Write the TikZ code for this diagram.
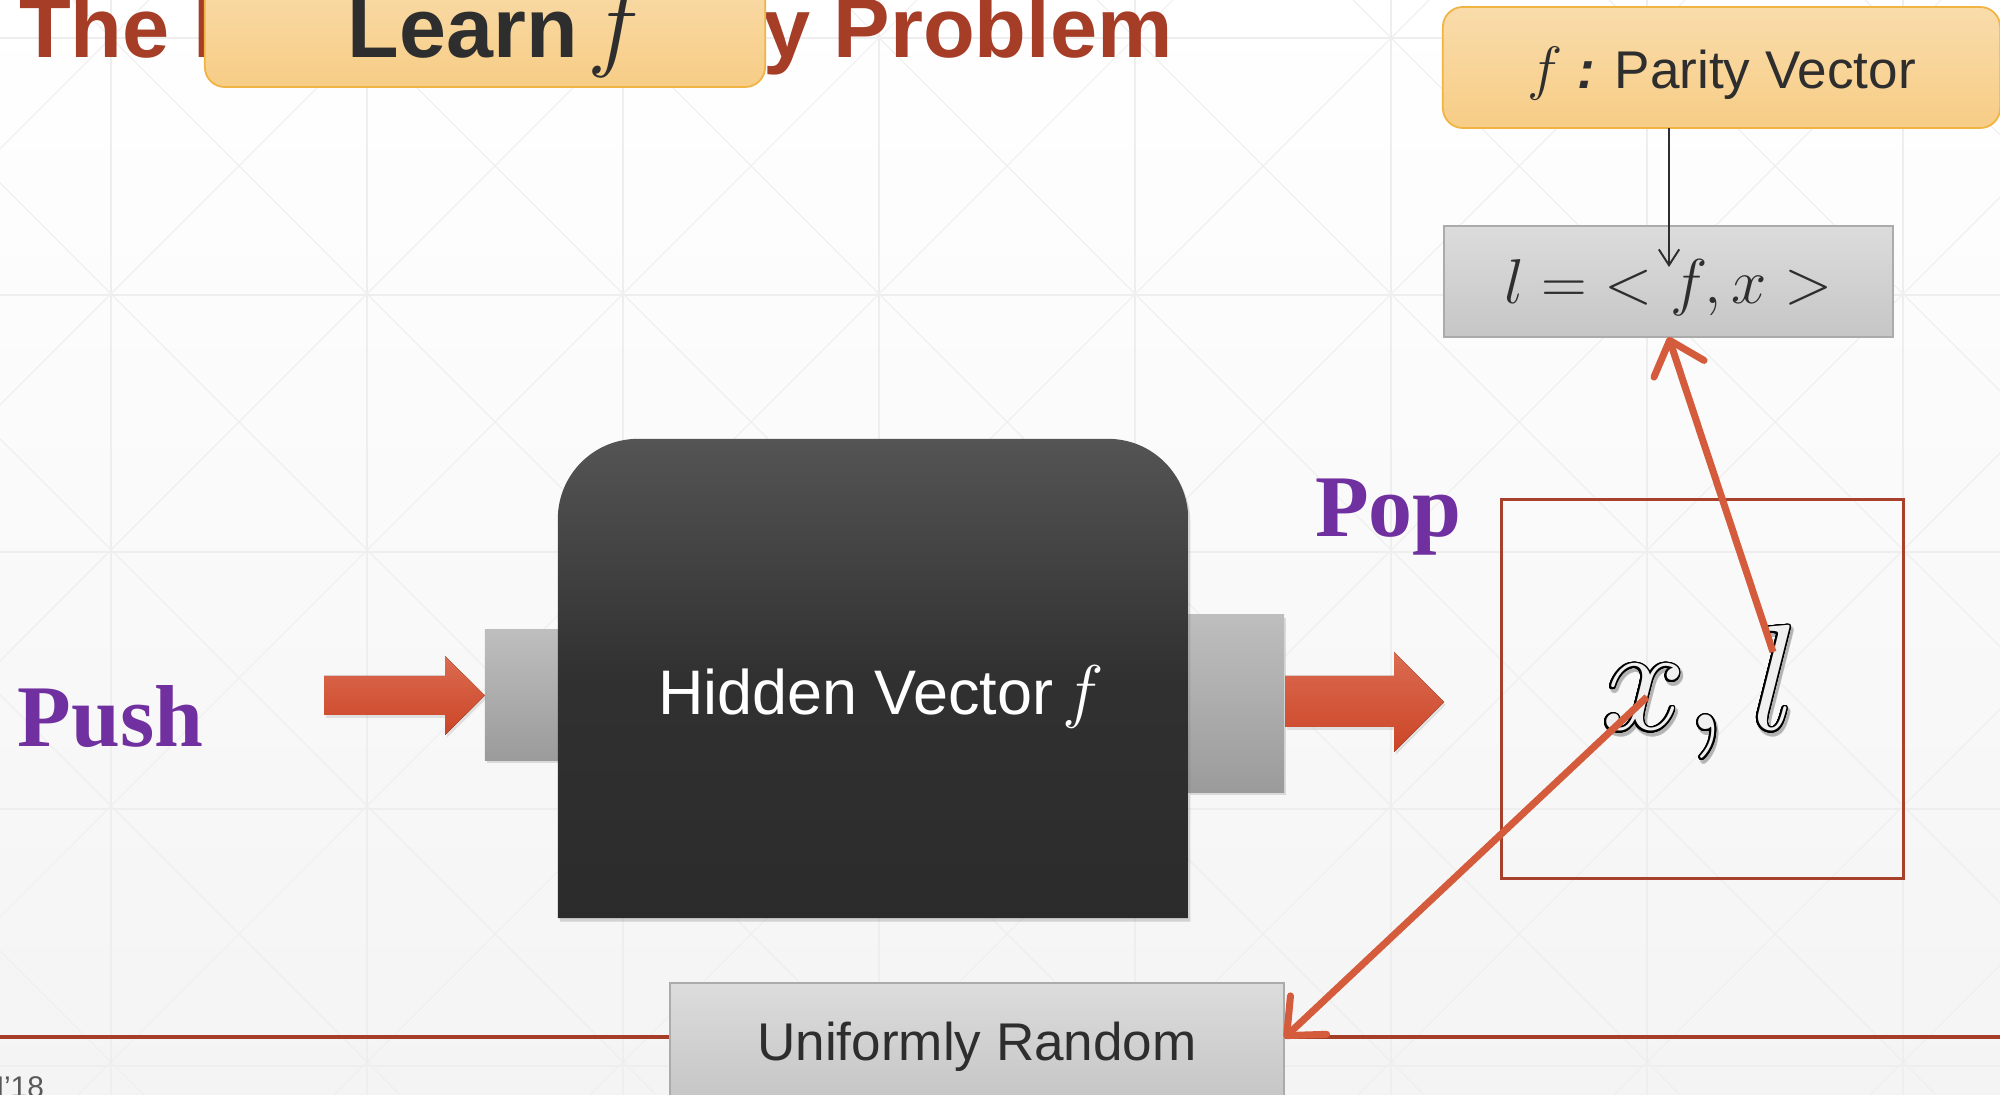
\RequirePackage{fix-cm}
\documentclass[tikz,border=0pt]{standalone}
\usepackage[no-math]{fontspec}
\setmainfont{Liberation Sans}
\newfontfamily\labelserif{Liberation Serif}
\usepackage{contour}
\contournumber{32}
\usetikzlibrary{arrows.meta,calc,shadows}

\definecolor{titlered}{HTML}{A53D27}
\definecolor{orangetop}{HTML}{F9DCAB}
\definecolor{orangebot}{HTML}{F7CD86}
\definecolor{orangeedge}{HTML}{F0B443}
\definecolor{graytop}{HTML}{DCDCDC}
\definecolor{graybot}{HTML}{C6C6C6}
\definecolor{grayedge}{HTML}{ABABAB}
\definecolor{stubtop}{HTML}{BEBEBE}
\definecolor{stubbot}{HTML}{9B9B9B}
\definecolor{arrowtop}{HTML}{DB6B50}
\definecolor{arrowbot}{HTML}{CC4527}
\definecolor{accent}{HTML}{D45B3B}
\definecolor{framered}{HTML}{A8412B}
\definecolor{rulered}{HTML}{A63D26}
\definecolor{labelpurple}{HTML}{7030A0}
\definecolor{ink}{HTML}{2E2E2E}
\definecolor{bgbottom}{HTML}{F4F4F4}
\definecolor{gridgray}{HTML}{EEEEEE}

% dark body of the box: light grey at the top, near black from the middle down
\pgfdeclareverticalshading{boxbody}{100bp}{color(0bp)=(black!83); color(25bp)=(black!83);
  color(50bp)=(black!81); color(75bp)=(black!67); color(100bp)=(black!67)}

\newcommand{\bigf}[1]{{\fontsize{#1}{#1}\selectfont$f$}}

\begin{document}
\begin{tikzpicture}[x=0.01cm, y=-0.01cm,
  every node/.style={inner sep=0pt, outer sep=0pt},
  gridline/.style={draw=gridgray, line width=0.3pt},
  orangebox/.style={draw=orangeedge, line width=0.5pt, rounded corners=0.2cm,
    top color=orangetop, bottom color=orangebot, text=ink},
  graybox/.style={draw=grayedge, line width=0.45pt,
    top color=graytop, bottom color=graybot, text=ink},
  stub/.style={top color=stubtop, bottom color=stubbot,
    drop shadow={opacity=0.25, shadow xshift=0.5pt, shadow yshift=-0.8pt}},
  blockarrow/.style={top color=arrowtop, bottom color=arrowbot,
    drop shadow={opacity=0.2, shadow xshift=0.5pt, shadow yshift=-0.8pt}},
  redarrow/.style={draw=accent, line width=2pt,
    -{Straight Barb[length=8.5pt, width=15pt, line cap=round, line join=round]}},
  thinarrow/.style={draw=ink, line width=0.55pt,
    -{Straight Barb[length=4.5pt, width=5.8pt]}},
  bigword/.style={text=labelpurple, font=\labelserif\bfseries\fontsize{25pt}{30pt}\selectfont},
]
\useasboundingbox (0,0) rectangle (2000,1095);

% page background with its faint triangular grid
\shade[top color=white, bottom color=bgbottom] (0,0) rectangle (2000,1095);
\begin{scope}
  \clip (0,0) rectangle (2000,1095);
  \foreach \gx in {111,367,...,1903} \draw[gridline] (\gx,0) -- (\gx,1095);
  \foreach \gy in {38,295,552,809,1066} \draw[gridline] (0,\gy) -- (2000,\gy);
  \foreach \k in {-5,...,8} \draw[gridline] ({73+256*\k},0) -- ({73+256*\k+1095},1095);
  \foreach \k in {0,...,12} \draw[gridline] ({149+256*\k},0) -- ({149+256*\k-1095},1095);
\end{scope}

% slide title, partly covered by the callout
\node[anchor=base west, text=titlered, font=\bfseries\fontsize{24.1pt}{29pt}\selectfont]
  (title) at (19,58) {The Learning Parity Problem};
\node[orangebox, minimum width=5.6cm, minimum height=1.19cm,
  text height=0.59cm, text depth=0pt,
  font=\bfseries\fontsize{24pt}{29pt}\selectfont] (learn) at (485,27.5)
  {\kern0.26cm Learn\kern0.12em\bigf{29pt}};

% parity vector and the label computation
\node[orangebox, minimum width=5.57cm, minimum height=1.21cm, text depth=0pt,
  font=\fontsize{15.1pt}{18pt}\selectfont] (parity) at (1721.5,67.5)
  {\bigf{17pt} \textbf{\textit{:}} Parity Vector};
\node[graybox, minimum width=4.49cm, minimum height=1.11cm, text depth=0pt,
  font=\fontsize{18pt}{21pt}\selectfont] (lfx) at (1668.5,281.5)
  {$l = \;< f,x >$};
\coordinate (ftip) at (1669,267);
\draw[thinarrow] (parity.south -| ftip) -- (ftip);

% the black box with its two ports
\node[stub, minimum width=0.73cm, minimum height=1.3cm] (stubL) at (521.5,695) {};
\node[stub, minimum width=0.96cm, minimum height=1.77cm] (stubR) at (1236,703.5) {};
\node[minimum width=6.3cm, minimum height=4.79cm] (hv) at (873,678.5) {};
\shade[shading=boxbody,
  drop shadow={opacity=0.3, shadow xshift=0.6pt, shadow yshift=-1pt}]
  (hv.south west) -- ([yshift=-0.8cm]hv.north west)
  arc[start angle=180, end angle=90, radius=0.8cm]
  -- ([xshift=-0.8cm]hv.north east)
  arc[start angle=90, end angle=0, radius=0.8cm]
  -- (hv.south east) -- cycle;
\node[anchor=base west, text=white, font=\fontsize{17.9pt}{21pt}\selectfont]
  (hvt) at (658,715) {Hidden Vector\kern0.15em\bigf{20pt}};

% push and pop
\node[bigword, anchor=base west] (push) at (18,747) {Push};
\node[bigword, anchor=base west] (pop) at (1315,537) {Pop};
\fill[blockarrow] (324,676) -- (445,676) -- (445,656) -- (485,695.5)
  -- (445,735) -- (445,715) -- (324,715) -- cycle;
\fill[blockarrow] (1285,676) -- (1394,676) -- (1394,652) -- (1444,702)
  -- (1394,752) -- (1394,727) -- (1285,727) -- cycle;

% output sample
\node[draw=framered, line width=0.8pt, minimum width=4.01cm, minimum height=3.78cm]
  (xlbox) at (1702.5,689) {};
\node[anchor=base west, text=black!30, opacity=0.3,
  font=\fontsize{42.7pt}{50pt}\selectfont] (xlshade) at (1604,733)
  {\contourlength{0.7pt}\contour{black!30}{$x,l$}};
\node[anchor=base west, text=black!6,
  font=\fontsize{42.7pt}{50pt}\selectfont] (xl) at (1602,730)
  {\contourlength{0.45pt}\contour{black}{$x,l$}};
\coordinate (lpt) at (1773,652);
\coordinate (xpt) at (1647,697);

% footer rule, random source and footer text
\draw[rulered, line width=1.1pt] (0,1037) -- (2000,1037);
\node[graybox, minimum width=6.14cm, minimum height=1.16cm, text depth=0pt,
  font=\fontsize{15.1pt}{18pt}\selectfont] (ur) at (977,1041) {Uniformly Random};
\node[anchor=base east, text=black!65, font=\fontsize{8.5pt}{10pt}\selectfont]
  (foot) at (44,1097) {N'18};

% flow of the sample
\draw[redarrow] (lpt) -- (lfx.south);
\draw[redarrow] (xpt) -- ([yshift=-0.55cm]ur.north east);
\end{tikzpicture}
\end{document}
